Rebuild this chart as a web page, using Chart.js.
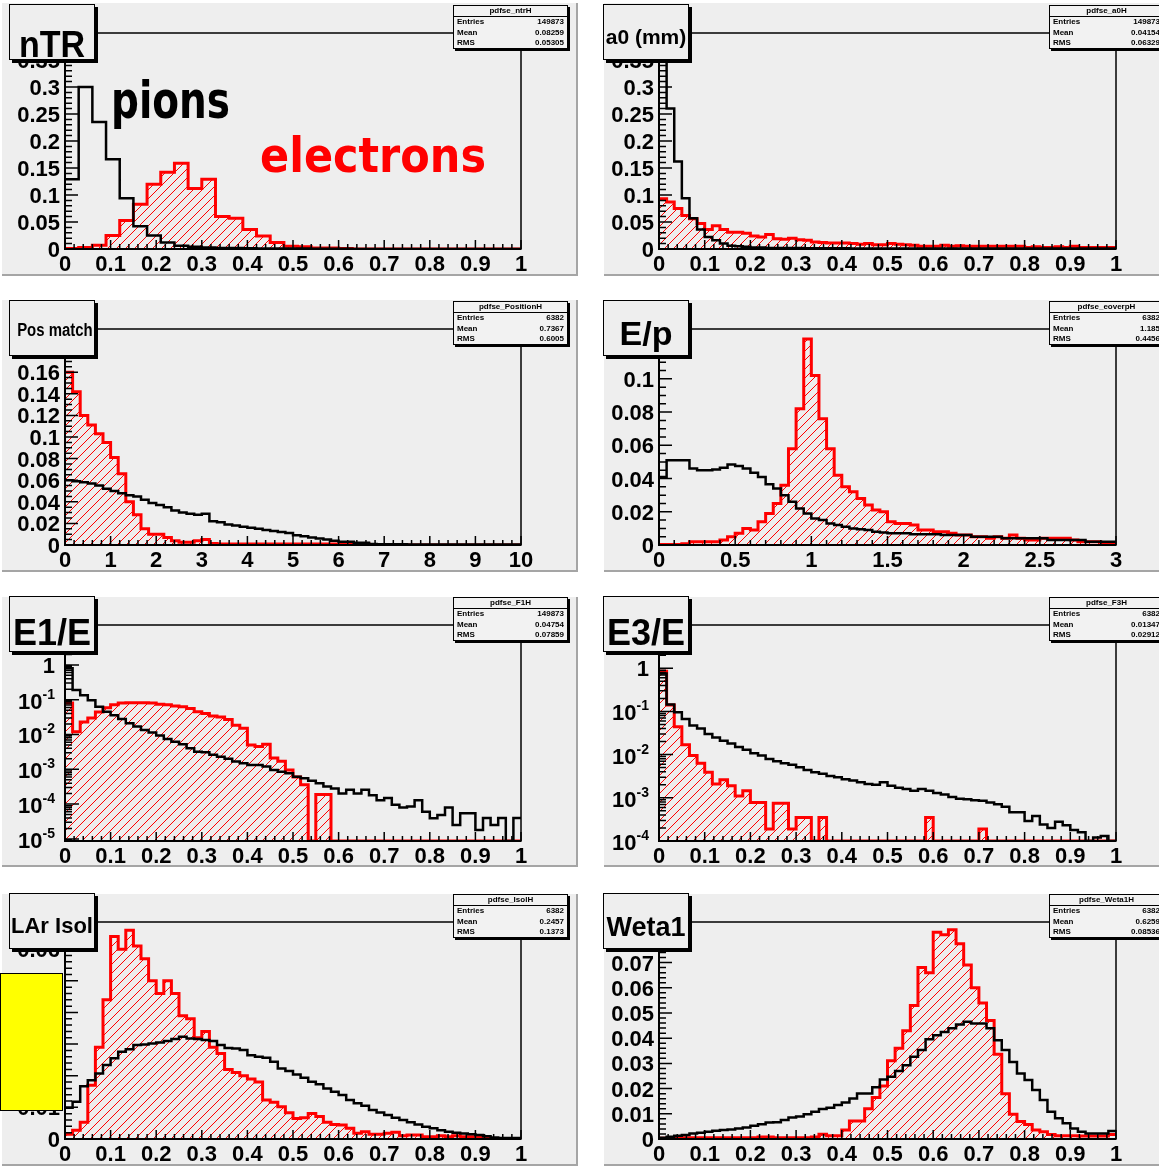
<!DOCTYPE html>
<html>
<head>
<meta charset="utf-8">
<script src="https://cdn.jsdelivr.net/npm/chart.js@4.4.1/dist/chart.umd.min.js"></script>
<style>
  html, body { margin: 0; padding: 0; background: #fff; }
  #page { position: relative; width: 1159px; height: 1169px; overflow: hidden; background: #fff;
          font-family: "Liberation Sans", Arial, sans-serif; }
  .pad { position: absolute; background: #eeeeee; box-sizing: border-box;
         border-right: 2px solid #a5a5a5; border-bottom: 2px solid #a5a5a5; }
  canvas.plot { position: absolute; }
  .title { position: absolute; background: #eeeeee; border: 1px solid #000; box-shadow: 3px 3px 0 #000;
           box-sizing: border-box; font-weight: bold; color: #000; overflow: visible; }
  .title span { position: absolute; left: 0; width: 100%; text-align: center; line-height: 1; white-space: nowrap; }
  .stats { position: absolute; width: 115px; height: 44px; background: #f2f2f2; border: 1px solid #000;
           box-shadow: 2px 2px 0 #000; box-sizing: border-box; color: #000;
           font: bold 8px "Liberation Sans Narrow", "Liberation Sans", Arial, sans-serif; }
  .stats .hdr { height: 10px; line-height: 10px; text-align: center; border-bottom: 1px solid #000; }
  .stats .row { display: flex; justify-content: space-between; height: 10.5px; line-height: 10.5px; padding: 0 3px 0 3px; }
  .note { position: absolute; font-family: "DejaVu Sans", sans-serif; font-weight: bold; line-height: 1; white-space: nowrap; }
  .marker { position: absolute; background: #ffff00; border: 1px solid #000; box-sizing: border-box; }
</style>
</head>
<body>
<div id="page"></div>
<script>
// ---------- histogram contents (normalised entries per bin) ----------

// nTR : fraction of high-threshold TR hits, bins of 0.03
const nTRBinWidth = 0.03;
const nTRPions = [0.129, 0.300, 0.235, 0.166, 0.094, 0.042, 0.025, 0.012, 0.006, 0.004,
  0.003, 0.002, 0.002, 0.0015, 0.001, 0.001, 0.001, 0.001, 0.0005, 0.0005,
  0.0005, 0, 0, 0, 0, 0, 0, 0, 0, 0, 0, 0, 0, 0];
const nTRElectrons = [0.001, 0.003, 0.007, 0.025, 0.053, 0.083, 0.120, 0.142, 0.159, 0.112,
  0.129, 0.060, 0.057, 0.036, 0.024, 0.012, 0.005, 0.004, 0.002, 0.002,
  0.001, 0, 0, 0, 0, 0, 0, 0, 0, 0, 0, 0, 0, 0];

// a0 (mm) : transverse impact parameter
const a0BinWidth = 1 / 60;
const a0Pions = [0.370, 0.260, 0.162, 0.094, 0.057, 0.036, 0.022, 0.016, 0.010, 0.006,
  0.005, 0.004, 0.003, 0.003, 0.002, 0.002, 0.002, 0.002, 0.002, 0.0015,
  0.0015, 0.0015, 0.0015, 0.0015, 0.0015, 0.001, 0.001, 0.001, 0.001, 0.001,
  0.001, 0.001, 0.001, 0.001, 0.001, 0.001, 0.001, 0.001, 0.001, 0.001,
  0.001, 0.001, 0.001, 0.001, 0.001, 0.001, 0.001, 0.001, 0.001, 0.001,
  0.001, 0.001, 0.001, 0.001, 0.001, 0.001, 0.001, 0.001, 0.001, 0.001];
const a0Electrons = [0.093, 0.087, 0.075, 0.062, 0.056, 0.047, 0.036, 0.043, 0.036, 0.031,
  0.031, 0.029, 0.024, 0.022, 0.027, 0.019, 0.018, 0.020, 0.017, 0.016,
  0.013, 0.012, 0.011, 0.011, 0.011, 0.010, 0.009, 0.010, 0.008, 0.008,
  0.010, 0.009, 0.008, 0.007, 0.005, 0.005, 0.005, 0.007, 0.005, 0.006,
  0.005, 0.005, 0.005, 0.005, 0.005, 0.005, 0.005, 0.005, 0.003, 0.004,
  0.003, 0.003, 0.004, 0.003, 0.005, 0.003, 0.003, 0.003, 0.003, 0.003];

// Pos match : track-cluster position matching
const posBinWidth = 10 / 60;
const posPions = [0.060, 0.059, 0.058, 0.057, 0.055, 0.052, 0.050, 0.048, 0.046, 0.045,
  0.042, 0.039, 0.037, 0.035, 0.032, 0.030, 0.029, 0.028, 0.029, 0.022,
  0.021, 0.019, 0.018, 0.017, 0.016, 0.015, 0.014, 0.013, 0.012, 0.011,
  0.009, 0.008, 0.007, 0.006, 0.005, 0.004, 0.003, 0.003, 0.002, 0.002,
  0.001, 0.0008, 0.0008, 0.0006, 0.0006, 0.0005, 0.0005, 0.0005, 0.0005, 0.0005,
  0.0005, 0.0005, 0.0005, 0.0005, 0.0005, 0.0005, 0.0005, 0.0005, 0.0005, 0.0005];
const posElectrons = [0.160, 0.142, 0.120, 0.111, 0.103, 0.095, 0.081, 0.066, 0.040, 0.028,
  0.015, 0.010, 0.010, 0.007, 0.004, 0.0025, 0.0025, 0.004, 0.005, 0.0015,
  0.001, 0.001, 0.001, 0.001, 0.001, 0.001, 0.001, 0.001, 0.001, 0.001,
  0.001, 0.001, 0.001, 0.001, 0.001, 0.001, 0.001, 0.001, 0.001, 0.001,
  0, 0, 0, 0, 0, 0, 0, 0, 0, 0,
  0, 0, 0, 0, 0, 0, 0, 0, 0, 0];

// E/p
const epBinWidth = 0.05;
const epPions = [0.041, 0.051, 0.051, 0.051, 0.046, 0.045, 0.045, 0.0455, 0.0465, 0.0485,
  0.0475, 0.046, 0.0435, 0.041, 0.0365, 0.034, 0.030, 0.026, 0.022, 0.019,
  0.016, 0.015, 0.013, 0.012, 0.011, 0.010, 0.0095, 0.009, 0.008, 0.0075,
  0.007, 0.007, 0.007, 0.0065, 0.0065, 0.0065, 0.0065, 0.006, 0.006, 0.006,
  0.006, 0.005, 0.005, 0.005, 0.005, 0.004, 0.004, 0.004, 0.004, 0.004,
  0.004, 0.003, 0.003, 0.003, 0.003, 0.003, 0.002, 0.002, 0.002, 0.002];
const epElectrons = [0.0003, 0.0003, 0.0003, 0.0008, 0.002, 0.002, 0.002, 0.002, 0.003, 0.005,
  0.007, 0.010, 0.009, 0.014, 0.019, 0.025, 0.036, 0.058, 0.082, 0.124,
  0.102, 0.076, 0.058, 0.042, 0.035, 0.032, 0.028, 0.024, 0.021, 0.020,
  0.014, 0.013, 0.013, 0.012, 0.009, 0.009, 0.008, 0.008, 0.007, 0.006,
  0.006, 0.005, 0.005, 0.004, 0.005, 0.004, 0.006, 0.004, 0.003, 0.003,
  0.004, 0.004, 0.004, 0.004, 0.003, 0.002, 0.002, 0.002, 0.001, 0.001];

// E1/E : strip-layer energy fraction (log scale)
const e1BinWidth = 1 / 60;
const e1Pions = [0.8, 0.19, 0.135, 0.097, 0.063, 0.045, 0.036, 0.028, 0.021, 0.017,
  0.0134, 0.0115, 0.0093, 0.0074, 0.0062, 0.0052, 0.0040, 0.0032, 0.0031, 0.0026,
  0.0023, 0.0020, 0.00167, 0.00148, 0.00132, 0.00132, 0.0012, 0.00095, 0.00085, 0.00077,
  0.00061, 0.00055, 0.00047, 0.0004, 0.00032, 0.00028, 0.0002, 0.00026, 0.0002, 0.00026,
  0.00018, 0.00013, 0.00015, 0.000095, 0.00008, 0.000085, 0.00013, 0.00006, 0.000039, 0.000049,
  0.00008, 0.000025, 0.000055, 0.000055, 0.000018, 0.00004, 0.000025, 0.00004, 0, 0.00004];
const e1Electrons = [0.08, 0.012, 0.023, 0.030, 0.044, 0.059, 0.071, 0.080, 0.082, 0.082,
  0.082, 0.080, 0.074, 0.071, 0.066, 0.063, 0.056, 0.045, 0.040, 0.034,
  0.032, 0.027, 0.0184, 0.015, 0.005, 0.0045, 0.0052, 0.0021, 0.0017, 0.00095,
  0.0006, 0.00036, 0, 0.00019, 0.00019, 0, 0, 0, 0, 0,
  0, 0, 0, 0, 0, 0, 0, 0, 0, 0,
  0, 0, 0, 0, 0, 0, 0, 0, 0, 0];

// E3/E : back-layer energy fraction (log scale)
const e3BinWidth = 1 / 60;
const e3Pions = [0.75, 0.145, 0.096, 0.067, 0.047, 0.040, 0.030, 0.025, 0.021, 0.018,
  0.015, 0.013, 0.0107, 0.0095, 0.0079, 0.0070, 0.0063, 0.0058, 0.0051, 0.0044,
  0.0039, 0.0036, 0.0032, 0.0030, 0.0027, 0.0025, 0.0023, 0.0021, 0.0020, 0.0023,
  0.0019, 0.0017, 0.0016, 0.00145, 0.0016, 0.00145, 0.0013, 0.0012, 0.00105, 0.00095,
  0.00093, 0.00088, 0.00085, 0.00078, 0.00071, 0.00062, 0.00046, 0.00046, 0.00029, 0.00038,
  0.00024, 0.0002, 0.00028, 0.00023, 0.00018, 0.00016, 0, 0.00012, 0.00013, 0];
const e3Electrons = [0.85, 0.14, 0.044, 0.017, 0.0095, 0.0063, 0.0039, 0.0021, 0.0026, 0.0019,
  0.0011, 0.00145, 0.00078, 0.00078, 0.00019, 0.00075, 0.00075, 0.00019, 0.00035, 0.00035,
  0, 0.00035, 0, 0, 0, 0, 0, 0, 0, 0,
  0, 0, 0, 0, 0, 0.00035, 0, 0, 0, 0,
  0, 0, 0.00019, 0, 0, 0, 0, 0, 0, 0,
  0, 0, 0, 0, 0, 0, 0, 0, 0, 0];

// LAr Isol : calorimeter isolation
const larBinWidth = 1 / 60;
const larPions = [0.0099, 0.0118, 0.0167, 0.0186, 0.0207, 0.0234, 0.0255, 0.0276, 0.0284, 0.0297,
  0.0299, 0.0302, 0.0305, 0.0310, 0.0316, 0.0323, 0.0318, 0.0316, 0.0313, 0.0310,
  0.0297, 0.0288, 0.0286, 0.0281, 0.0265, 0.0260, 0.0257, 0.0244, 0.0223, 0.0215,
  0.0204, 0.0194, 0.0181, 0.0173, 0.0160, 0.0149, 0.0139, 0.0123, 0.0113, 0.0105,
  0.0092, 0.0084, 0.0076, 0.0067, 0.0060, 0.0053, 0.0046, 0.0039, 0.0034, 0.0028,
  0.0023, 0.0020, 0.0017, 0.0015, 0.0013, 0.0009, 0.0005, 0.0003, 0.0003, 0.0003];
const larElectrons = [0.0015, 0.0028, 0.0053, 0.017, 0.029, 0.044, 0.064, 0.060, 0.066, 0.061,
  0.057, 0.050, 0.046, 0.050, 0.046, 0.039, 0.038, 0.032, 0.034, 0.029,
  0.027, 0.022, 0.021, 0.020, 0.019, 0.018, 0.0123, 0.0116, 0.0102, 0.0083,
  0.0065, 0.0067, 0.0081, 0.0071, 0.0053, 0.0046, 0.0044, 0.0034, 0.0018, 0.0023,
  0.0015, 0.0015, 0.0018, 0.0021, 0.0010, 0.0013, 0.0013, 0.0007, 0.0007, 0.0010,
  0.0007, 0.0010, 0.0007, 0.0007, 0.0007, 0.0004, 0, 0, 0, 0];

// Weta1 : shower width in the strips
const wetaBinWidth = 1 / 60;
const wetaPions = [0.0005, 0.0009, 0.0013, 0.0016, 0.0022, 0.0025, 0.0029, 0.0033, 0.0036, 0.0038,
  0.0042, 0.0046, 0.0053, 0.0059, 0.0065, 0.0066, 0.0075, 0.0085, 0.0089, 0.0098,
  0.0108, 0.0119, 0.0124, 0.0135, 0.0145, 0.0161, 0.0181, 0.0181, 0.0205, 0.0236,
  0.0247, 0.0270, 0.0293, 0.0326, 0.0353, 0.0396, 0.0412, 0.0425, 0.0439, 0.0454,
  0.0465, 0.0458, 0.0458, 0.0439, 0.0392, 0.0353, 0.0306, 0.0260, 0.0234, 0.0194,
  0.0155, 0.0108, 0.0082, 0.0062, 0.0042, 0.0029, 0.0022, 0.0022, 0.0022, 0.0032];
const wetaElectrons = [0.0003, 0.0003, 0.0005, 0.0005, 0.0005, 0.0005, 0.0005, 0.0005, 0.0005, 0.0005,
  0.0005, 0.0005, 0.0005, 0.0008, 0.0008, 0.0005, 0.0005, 0.0005, 0.0005, 0.0005,
  0.0008, 0.0019, 0.0013, 0.0013, 0.0036, 0.0071, 0.0071, 0.012, 0.0165, 0.021,
  0.031, 0.036, 0.043, 0.053, 0.068, 0.066, 0.082, 0.081, 0.083, 0.0775,
  0.069, 0.060, 0.054, 0.047, 0.0336, 0.018, 0.0098, 0.0069, 0.0058, 0.0036,
  0.0029, 0.0018, 0.0013, 0.0013, 0.0013, 0.0012, 0.0012, 0.0012, 0.0012, 0.0018];

// ---------- axis tick labels ----------
const unitXTicks = [0, 0.1, 0.2, 0.3, 0.4, 0.5, 0.6, 0.7, 0.8, 0.9, 1];
const posXTicks = [0, 1, 2, 3, 4, 5, 6, 7, 8, 9, 10];
const epXTicks = [0, 0.5, 1, 1.5, 2, 2.5, 3];
const topYTicks = [0, 0.05, 0.1, 0.15, 0.2, 0.25, 0.3, 0.35];
const posYTicks = [0, 0.02, 0.04, 0.06, 0.08, 0.1, 0.12, 0.14, 0.16, 0.18];
const epYTicks = [0, 0.02, 0.04, 0.06, 0.08, 0.1, 0.12];
const e1YTicks = [1e-5, 1e-4, 1e-3, 1e-2, 1e-1, 1];
const e3YTicks = [1e-4, 1e-3, 1e-2, 1e-1, 1];
const larYTicks = [0, 0.01, 0.02, 0.03, 0.04, 0.05, 0.06];
const wetaYTicks = [0, 0.01, 0.02, 0.03, 0.04, 0.05, 0.06, 0.07, 0.08];

// ---------- statistics boxes: name, entries, mean, rms ----------
const statsNTR = ['pdfse_ntrH', '149873', '0.08259', '0.05305'];
const statsA0 = ['pdfse_a0H', '149873', '0.04154', '0.06329'];
const statsPos = ['pdfse_PositionH', '6382', '0.7367', '0.6005'];
const statsEp = ['pdfse_eoverpH', '6382', '1.185', '0.4456'];
const statsE1 = ['pdfse_F1H', '149873', '0.04754', '0.07859'];
const statsE3 = ['pdfse_F3H', '6382', '0.01347', '0.02912'];
const statsLar = ['pdfse_IsolH', '6382', '0.2457', '0.1373'];
const statsWeta = ['pdfse_Weta1H', '6382', '0.6259', '0.08536'];

// ---------- page geometry ----------
const COLS = [
  { left: 2, width: 576, plotL: 65, plotR: 521, titleL: 9, statsL: 453 },
  { left: 604, width: 560, plotL: 659, plotR: 1116, titleL: 603, statsL: 1049 }
];
const ROWS = [
  { top: 3, height: 273, plotT: 33, plotB: 249 },
  { top: 300, height: 272, plotT: 329, plotB: 545 },
  { top: 597, height: 270, plotT: 625, plotB: 841 },
  { top: 894, height: 272, plotT: 922, plotB: 1139 }
];

const panels = [
  { col: 0, row: 0, title: 'nTR', tSize: 37, tTop: 21, tScaleX: 0.92, stats: statsNTR,
    xMin: 0, xMax: 1, bw: nTRBinWidth, pions: nTRPions, electrons: nTRElectrons,
    yMin: 0, yMax: 0.4, log: false, xTicks: unitXTicks, xMinor: 0.02, yTicks: topYTicks, yMinor: 0.01 },
  { col: 1, row: 0, title: 'a0 (mm)', tSize: 21, tTop: 21, stats: statsA0,
    xMin: 0, xMax: 1, bw: a0BinWidth, pions: a0Pions, electrons: a0Electrons,
    yMin: 0, yMax: 0.4, log: false, xTicks: unitXTicks, xMinor: 0.02, yTicks: topYTicks, yMinor: 0.01 },
  { col: 0, row: 1, title: 'Pos match', tSize: 18, tTop: 20, tScaleX: 0.83, stats: statsPos,
    xMin: 0, xMax: 10, bw: posBinWidth, pions: posPions, electrons: posElectrons,
    yMin: 0, yMax: 0.2, log: false, xTicks: posXTicks, xMinor: 0.2, yTicks: posYTicks, yMinor: 0.005 },
  { col: 1, row: 1, title: 'E/p', tSize: 34, tTop: 15, stats: statsEp,
    xMin: 0, xMax: 3, bw: epBinWidth, pions: epPions, electrons: epElectrons,
    yMin: 0, yMax: 0.13, log: false, xTicks: epXTicks, xMinor: 0.1, yTicks: epYTicks, yMinor: 0.005 },
  { col: 0, row: 2, title: 'E1/E', tSize: 36, tTop: 18, stats: statsE1,
    xMin: 0, xMax: 1, bw: e1BinWidth, pions: e1Pions, electrons: e1Electrons,
    yMin: 8.7e-6, yMax: 14, log: true, xTicks: unitXTicks, xMinor: 0.02, yTicks: e1YTicks },
  { col: 1, row: 2, title: 'E3/E', tSize: 36, tTop: 18, stats: statsE3,
    xMin: 0, xMax: 1, bw: e3BinWidth, pions: e3Pions, electrons: e3Electrons,
    yMin: 1e-4, yMax: 10, log: true, xTicks: unitXTicks, xMinor: 0.02, yTicks: e3YTicks },
  { col: 0, row: 3, title: 'LAr Isol', tSize: 22, tTop: 21, stats: statsLar,
    xMin: 0, xMax: 1, bw: larBinWidth, pions: larPions, electrons: larElectrons,
    yMin: 0, yMax: 0.0686, log: false, xTicks: unitXTicks, xMinor: 0.02, yTicks: larYTicks, yMinor: 0.002 },
  { col: 1, row: 3, title: 'Weta1', tSize: 27, tTop: 20, stats: statsWeta,
    xMin: 0, xMax: 1, bw: wetaBinWidth, pions: wetaPions, electrons: wetaElectrons,
    yMin: 0, yMax: 0.0861, log: false, xTicks: unitXTicks, xMinor: 0.02, yTicks: wetaYTicks, yMinor: 0.002 }
];

const LABEL_FONT = 'bold 22px "Liberation Sans", Arial, sans-serif';
const EXP_FONT = 'bold 14px "Liberation Sans", Arial, sans-serif';

// diagonal red hatching used for the electron histograms
function makeHatch() {
  const c = document.createElement('canvas');
  c.width = 9; c.height = 9;
  const g = c.getContext('2d');
  g.strokeStyle = '#ff0000';
  g.lineWidth = 1;
  g.beginPath();
  g.moveTo(-1, 10); g.lineTo(10, -1);
  g.moveTo(-1, 1); g.lineTo(1, -1);
  g.moveTo(8, 10); g.lineTo(10, 8);
  g.stroke();
  return g.createPattern(c, 'repeat');
}
const hatch = makeHatch();

// bin contents -> step outline (low edge of every bin, plus the last high edge)
function stepPoints(xMin, bw, values, floor) {
  const pts = values.map((v, i) => ({ x: xMin + i * bw, y: Math.max(v, floor) }));
  pts.push({ x: xMin + values.length * bw, y: Math.max(values[values.length - 1], floor) });
  return pts;
}

function sameValue(a, b) { return Math.abs(a - b) < 1e-9 * Math.max(1, Math.abs(a)); }

// ROOT-like frame: inward tick marks, bold labels, superscript decades on log axes
function rootAxes(p) {
  return {
    id: 'rootAxes',
    afterDatasetsDraw(chart) {
      const { ctx, chartArea: a } = chart;
      const xs = chart.scales.x, ys = chart.scales.y;
      ctx.save();
      ctx.strokeStyle = '#000';
      ctx.lineWidth = 1.5;
      ctx.strokeRect(a.left, a.top, a.right - a.left, a.bottom - a.top);
      ctx.lineWidth = 2;
      ctx.beginPath();
      ctx.moveTo(a.left, a.top); ctx.lineTo(a.left, a.bottom); ctx.lineTo(a.right, a.bottom);
      ctx.stroke();

      ctx.lineWidth = 1.5;
      ctx.beginPath();
      const nx = Math.round((p.xMax - p.xMin) / p.xMinor);
      for (let k = 0; k <= nx; k++) {
        const v = p.xMin + k * p.xMinor;
        const px = xs.getPixelForValue(v);
        const len = p.xTicks.some(t => sameValue(t, v)) ? 9 : 5;
        ctx.moveTo(px, a.bottom); ctx.lineTo(px, a.bottom - len);
      }
      if (p.log) {
        const k0 = Math.floor(Math.log10(p.yMin)), k1 = Math.ceil(Math.log10(p.yMax));
        for (let k = k0; k <= k1; k++) {
          for (let m = 1; m <= 9; m++) {
            const v = m * Math.pow(10, k);
            if (v < p.yMin * 0.999 || v > p.yMax) continue;
            const py = ys.getPixelForValue(v);
            const len = m === 1 ? 14 : 7;
            ctx.moveTo(a.left, py); ctx.lineTo(a.left + len, py);
          }
        }
      } else {
        const ny = Math.floor((p.yMax - p.yMin) / p.yMinor + 1e-6);
        for (let k = 0; k <= ny; k++) {
          const v = p.yMin + k * p.yMinor;
          const py = ys.getPixelForValue(v);
          const len = p.yTicks.some(t => sameValue(t, v)) ? 13 : 7;
          ctx.moveTo(a.left, py); ctx.lineTo(a.left + len, py);
        }
      }
      ctx.stroke();

      ctx.fillStyle = '#000';
      ctx.font = LABEL_FONT;
      ctx.textBaseline = 'alphabetic';
      ctx.textAlign = 'center';
      p.xTicks.forEach(t => ctx.fillText(String(t), xs.getPixelForValue(t), a.bottom + 22));

      ctx.textAlign = 'right';
      p.yTicks.forEach(t => {
        const py = ys.getPixelForValue(t);
        if (!p.log) {
          ctx.fillText(String(t), a.left - 5, py + 8);
          return;
        }
        const e = Math.round(Math.log10(t));
        if (e === 0) {
          ctx.font = LABEL_FONT;
          ctx.fillText('1', a.left - 10, py + 8);
          return;
        }
        const expText = String(e);
        ctx.font = EXP_FONT;
        const we = ctx.measureText(expText).width;
        ctx.fillText(expText, a.left - 10, py - 1);
        ctx.font = LABEL_FONT;
        ctx.fillText('10', a.left - 10 - we, py + 9);
      });
      ctx.restore();
    }
  };
}

const page = document.getElementById('page');

function buildPanel(d) {
  const c = COLS[d.col], r = ROWS[d.row];

  const pad = document.createElement('div');
  pad.className = 'pad';
  Object.assign(pad.style, { left: c.left + 'px', top: r.top + 'px', width: c.width + 'px', height: r.height + 'px' });
  page.appendChild(pad);

  const cv = document.createElement('canvas');
  cv.className = 'plot';
  cv.width = c.width; cv.height = r.height;
  Object.assign(cv.style, { left: c.left + 'px', top: r.top + 'px', width: c.width + 'px', height: r.height + 'px' });
  page.appendChild(cv);

  const floor = d.log ? d.yMin : 0;
  new Chart(cv.getContext('2d'), {
    type: 'line',
    data: {
      datasets: [
        { label: 'pions', data: stepPoints(d.xMin, d.bw, d.pions, floor),
          borderColor: '#000000', borderWidth: 2.5, fill: false, stepped: true, pointRadius: 0 },
        { label: 'electrons', data: stepPoints(d.xMin, d.bw, d.electrons, floor),
          borderColor: '#ff0000', borderWidth: 3, backgroundColor: hatch,
          fill: d.log ? 'start' : 'origin', stepped: true, pointRadius: 0 }
      ]
    },
    options: {
      responsive: false,
      animation: false,
      events: [],
      layout: { padding: { left: 0, top: r.plotT - r.top, right: c.left + c.width - c.plotR, bottom: 0 } },
      plugins: { legend: { display: false }, tooltip: { enabled: false } },
      scales: {
        x: { type: 'linear', min: d.xMin, max: d.xMax,
             ticks: { display: false }, grid: { display: false, drawTicks: false }, border: { display: false },
             afterFit(s) { s.height = r.top + r.height - r.plotB; } },
        y: { type: d.log ? 'logarithmic' : 'linear', min: d.yMin, max: d.yMax,
             ticks: { display: false }, grid: { display: false, drawTicks: false }, border: { display: false },
             afterFit(s) { s.width = c.plotL - c.left; } }
      }
    },
    plugins: [rootAxes(d)]
  });

  const tb = document.createElement('div');
  tb.className = 'title';
  Object.assign(tb.style, { left: c.titleL + 'px', top: (r.plotT - 29) + 'px', width: '86px', height: '56px' });
  const ts = document.createElement('span');
  ts.textContent = d.title;
  Object.assign(ts.style, { fontSize: d.tSize + 'px', top: d.tTop + 'px' });
  if (d.tScaleX) ts.style.transform = 'scaleX(' + d.tScaleX + ')';
  tb.appendChild(ts);
  page.appendChild(tb);

  const sb = document.createElement('div');
  sb.className = 'stats';
  Object.assign(sb.style, { left: c.statsL + 'px', top: (r.plotT - 28) + 'px' });
  const [name, entries, mean, rms] = d.stats;
  sb.innerHTML = '<div class="hdr"></div>' +
    '<div class="row"><span>Entries</span><span></span></div>' +
    '<div class="row"><span>Mean</span><span></span></div>' +
    '<div class="row"><span>RMS</span><span></span></div>';
  sb.querySelector('.hdr').textContent = name;
  const vals = sb.querySelectorAll('.row span:last-child');
  vals[0].textContent = entries; vals[1].textContent = mean; vals[2].textContent = rms;
  page.appendChild(sb);
}

panels.forEach(buildPanel);

// species annotations on the first plot
function addNote(text, color, left, baselineTop, size, sy) {
  const n = document.createElement('div');
  n.className = 'note';
  n.textContent = text;
  const asc = 0.846 * size;
  Object.assign(n.style, { color: color, fontSize: size + 'px', left: left + 'px', top: (baselineTop - asc) + 'px',
    transform: 'scaleY(' + sy + ')', transformOrigin: '0 ' + asc + 'px' });
  page.appendChild(n);
}
addNote('pions', '#000000', 111, 118, 39, 1.3);
addNote('electrons', '#ff0000', 260, 172, 43, 1.12);

// yellow marker block over the LAr Isol axis labels
const mk = document.createElement('div');
mk.className = 'marker';
Object.assign(mk.style, { left: '0px', top: '973px', width: '63px', height: '138px' });
page.appendChild(mk);
</script>
</body>
</html>
